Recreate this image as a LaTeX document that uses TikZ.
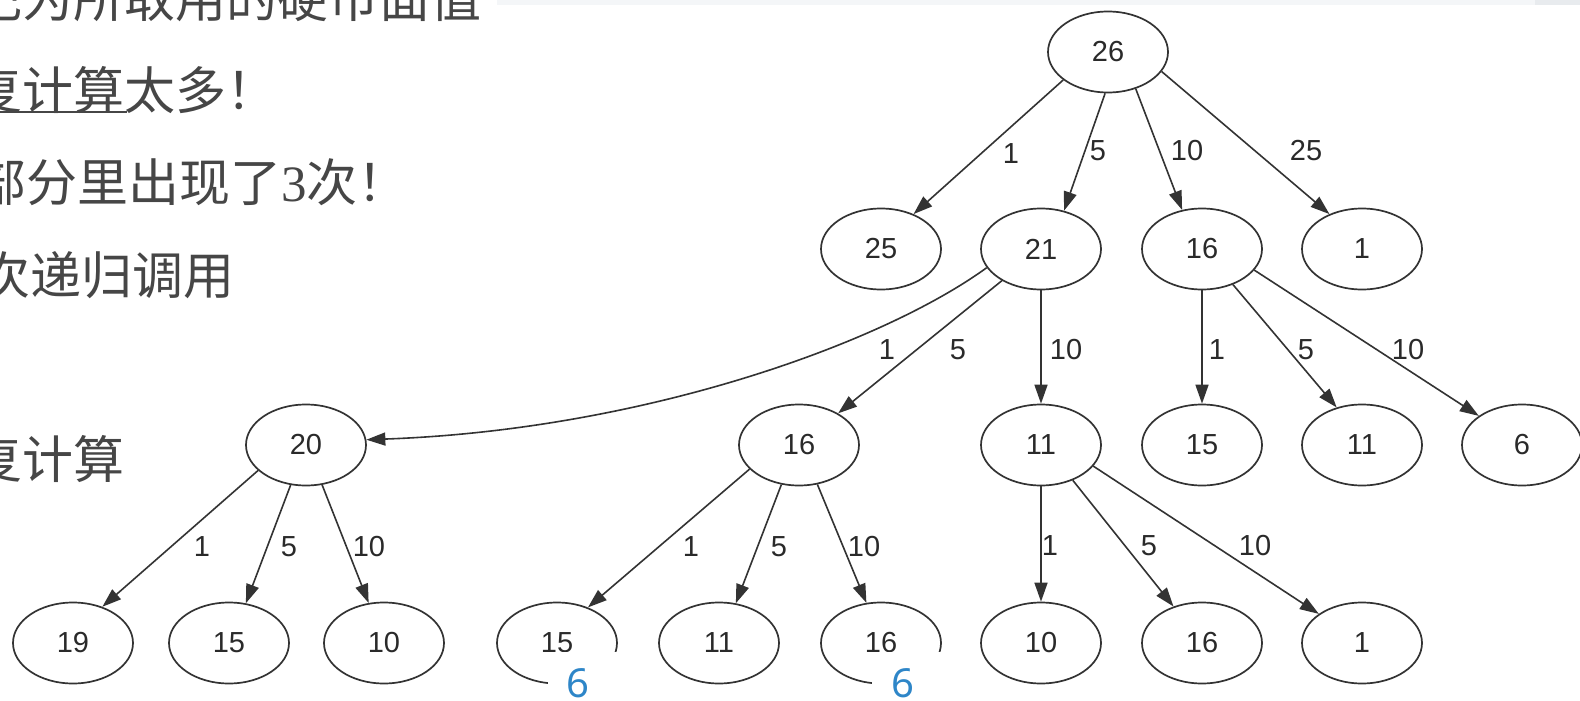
\documentclass[tikz,border=0pt]{standalone}
\usepackage{fontspec}
\setmainfont{Liberation Sans}
\newfontfamily\cjk{Noto Sans CJK SC}
\newfontfamily\serifdigit{Liberation Serif}
\newfontfamily\bluefont{Noto Sans}
\usetikzlibrary{shapes.geometric,arrows.meta}
\definecolor{edgec}{HTML}{333333}
\definecolor{txtc}{HTML}{2A2A2A}
\definecolor{slidetxt}{HTML}{464646}
\definecolor{blue6}{HTML}{2E86C8}
\definecolor{stripa}{HTML}{F4F6F8}
\definecolor{stripb}{HTML}{E8EBEE}
\tikzset{
  st/.style={ellipse, draw=edgec, line width=1.7pt, minimum width=120pt, minimum height=81pt,
    inner sep=0pt, text=txtc, font=\fontsize{29}{29}\selectfont},
  arr/.style={draw=edgec, line width=1.6pt, -{Triangle[length=19pt,width=13pt]}},
  elab/.style={text=txtc, font=\fontsize{29}{29}\selectfont, inner sep=0pt},
  slide/.style={anchor=base west, inner sep=0pt, text=slidetxt, font=\cjk\fontsize{51}{51}\selectfont},
  patch/.style={fill=white, draw=none},
  six/.style={text=blue6, font=\bluefont\fontsize{40}{40}\selectfont, inner sep=0pt}
}
\begin{document}
\begin{tikzpicture}[x=1pt,y=-1pt]
\useasboundingbox (0,0) rectangle (1580,701);
\clip (0,0) rectangle (1580,701);
\fill[white] (0,0) rectangle (1580,701);
\fill[stripa] (497,0) rectangle (1535,5);
\fill[stripb] (1535,0) rectangle (1580,5);

% slide text (cut at the left edge)
\node[slide] (t1) at (-29,18) {记为所取用的硬币面值};
\node[slide] (t2) at (-29,109) {复计算太多！};
\draw[slidetxt, line width=2pt] (0,112) -- (127,112);
\node[slide] (t3) at (-25,201) {部分里出现了{\serifdigit 3}次！};
\node[slide] (t4) at (-21,294) {次递归调用};
\node[slide] (t5) at (-29,478) {复计算};

% tree nodes
\node[st] (n26) at (1108,52) {26};
\node[st] (n25) at (881,249) {25};
\node[st] (n21) at (1041,249) {21};
\node[st] (n16a) at (1202,249) {16};
\node[st] (n1a) at (1362,249) {1};
\node[st] (n20) at (306,445) {20};
\node[st] (n16b) at (799,445) {16};
\node[st] (n11a) at (1041,445) {11};
\node[st] (n15a) at (1202,445) {15};
\node[st] (n11b) at (1362,445) {11};
\node[st] (n6) at (1522,445) {6};
\node[st] (n19) at (73,643) {19};
\node[st] (n15b) at (229,643) {15};
\node[st] (n10a) at (384,643) {10};
\node[st] (n15c) at (557,643) {15};
\node[st] (n11c) at (719,643) {11};
\node[st] (n16c) at (881,643) {16};
\node[st] (n10b) at (1041,643) {10};
\node[st] (n16d) at (1202,643) {16};
\node[st] (n1b) at (1362,643) {1};

% edges
\draw[arr] (n26.212) -- (n25.47);
\draw[arr] (n26.266) -- (n21.59);
\draw[arr] (n26.307) -- (n16a.117);
\draw[arr] (n26.340) -- (n1a.133);
\draw[arr] (n21.199) .. controls (880,345) and (640,430) .. (n20.5);
\draw[arr] (n21.219) -- (n16b.39);
\draw[arr] (n21.270) -- (n11a.90);
\draw[arr] (n16a.270) -- (n15a.90);
\draw[arr] (n16a.311) -- (n11b.124);
\draw[arr] (n16a.338) -- (n6.146);
\draw[arr] (n20.208) -- (n19.51);
\draw[arr] (n20.249) -- (n15b.67);
\draw[arr] (n20.292) -- (n10a.111);
\draw[arr] (n16b.206) -- (n15c.49);
\draw[arr] (n16b.246) -- (n11c.67);
\draw[arr] (n16b.295) -- (n16c.110);
\draw[arr] (n11a.270) -- (n10b.90);
\draw[arr] (n11a.312) -- (n16d.128);
\draw[arr] (n11a.338) -- (n1b.146);

% edge labels
\node[elab] (l1) at (1011,154) {1};
\node[elab] (l2) at (1098,151) {5};
\node[elab] (l3) at (1187,151) {10};
\node[elab] (l4) at (1306,151) {25};
\node[elab] (l5) at (887,350) {1};
\node[elab] (l6) at (958,350) {5};
\node[elab] (l7) at (1066,350) {10};
\node[elab] (l8) at (1217,350) {1};
\node[elab] (l9) at (1306,350) {5};
\node[elab] (l10) at (1408,350) {10};
\node[elab] (l11) at (202,547) {1};
\node[elab] (l12) at (289,547) {5};
\node[elab] (l13) at (369,547) {10};
\node[elab] (l14) at (691,547) {1};
\node[elab] (l15) at (779,547) {5};
\node[elab] (l16) at (864,547) {10};
\node[elab] (l17) at (1050,546) {1};
\node[elab] (l18) at (1149,546) {5};
\node[elab] (l19) at (1255,546) {10};

% white patches with blue 6
\fill[patch] (548,652) rectangle (625,705);
\fill[patch] (872,652) rectangle (950,705);
\node[six] (s1) at (578,683) {6};
\node[six] (s2) at (903,683) {6};
\end{tikzpicture}
\end{document}
